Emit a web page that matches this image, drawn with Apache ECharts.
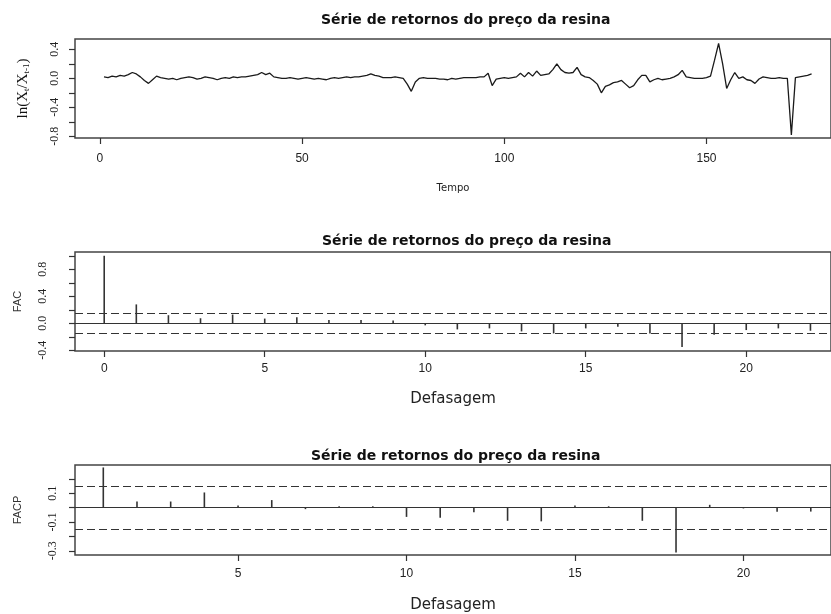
<!DOCTYPE html>
<html>
<head>
<meta charset="utf-8">
<script src="https://cdn.jsdelivr.net/npm/echarts@6/dist/echarts.min.js"></script>
<style>
  html, body { margin: 0; padding: 0; background: #fff; }
  #chart { width: 831px; height: 614px; }
</style>
</head>
<body>
<div id="chart"></div>
<script>
  // série de retornos ln(Xt/Xt-1), t = 1..176
  const retornos = [
    0.02, 0.01, 0.03, 0.02, 0.04, 0.03, 0.05, 0.08, 0.06, 0.02,
    -0.03, -0.07, -0.02, 0.03, 0.01, 0.0, -0.01, 0.0, -0.02, 0.0,
    0.01, 0.02, 0.01, -0.01, 0.0, 0.02, 0.01, 0.0, -0.02, 0.0,
    0.01, 0.0, 0.02, 0.01, 0.02, 0.02, 0.03, 0.04, 0.05, 0.08,
    0.05, 0.07, 0.02, 0.01, 0.0, 0.0, 0.01, 0.0, -0.01, 0.0,
    0.01, 0.0, -0.01, 0.0, -0.01, -0.02, 0.0, 0.01, 0.0, 0.01,
    0.02, 0.01, 0.02, 0.02, 0.03, 0.04, 0.06, 0.04, 0.03, 0.01,
    0.01, 0.01, 0.02, 0.01, 0.0, -0.08, -0.18, -0.05, 0.0, 0.01,
    0.0, 0.0, 0.0, -0.01, -0.01, -0.02, 0.0, -0.01, 0.0, 0.01,
    0.01, 0.01, 0.01, 0.02, 0.02, 0.07, -0.1, -0.01, 0.0, 0.01,
    0.0, 0.01, 0.02, 0.07, 0.02, 0.08, 0.03, 0.1, 0.04, 0.05,
    0.06, 0.12, 0.2, 0.12, 0.08, 0.07, 0.08, 0.15, 0.05, 0.02,
    0.01, -0.03, -0.08, -0.2, -0.11, -0.09, -0.06, -0.05, -0.03, -0.08,
    -0.13, -0.1, -0.02, 0.04, 0.04, -0.05, -0.02, 0.0, -0.02, -0.01,
    0.0, 0.02, 0.05, 0.11, 0.02, 0.01, 0.0, 0.0, 0.0, 0.01,
    0.03, 0.25, 0.48, 0.2, -0.14, -0.02, 0.08, 0.0, 0.02, -0.02,
    -0.03, -0.07, -0.01, 0.02, 0.01, 0.0, 0.0, 0.01, 0.0, 0.0,
    -0.78, 0.01, 0.02, 0.03, 0.04, 0.06
  ];

  // FAC (lags 0..22)
  const lagsFac = [0, 1, 2, 3, 4, 5, 6, 7, 8, 9, 10, 11, 12, 13, 14, 15, 16, 17, 18, 19, 20, 21, 22];
  const fac = [1.0, 0.28, 0.12, 0.075, 0.13, 0.07, 0.09, 0.05, 0.05, 0.04, -0.03, -0.09,
    -0.075, -0.12, -0.15, -0.075, -0.05, -0.15, -0.35, -0.17, -0.10, -0.075, -0.11];

  // FACP (lags 1..22)
  const lagsFacp = [1, 2, 3, 4, 5, 6, 7, 8, 9, 10, 11, 12, 13, 14, 15, 16, 17, 18, 19, 20, 21, 22];
  const facp = [0.28, 0.043, 0.043, 0.106, 0.015, 0.053, -0.01, 0.01, 0.01, -0.064, -0.07,
    -0.032, -0.091, -0.095, 0.015, 0.01, -0.091, -0.312, 0.02, -0.005, -0.028, -0.027];

  const limite = 0.148; // 2/sqrt(n)

  const ticksTopoX = [0, 50, 100, 150];
  const ticksTopoY = [-0.8, -0.6, -0.4, -0.2, 0.0, 0.2, 0.4];
  const labelsTopoY = [-0.8, -0.4, 0.0, 0.4];
  const ticksFacX = [0, 5, 10, 15, 20];
  const ticksFacY = [-0.4, -0.2, 0.0, 0.2, 0.4, 0.6, 0.8, 1.0];
  const labelsFacY = [-0.4, 0.0, 0.4, 0.8];
  const ticksFacpX = [5, 10, 15, 20];
  const ticksFacpY = [-0.3, -0.2, -0.1, 0.0, 0.1, 0.2];
  const labelsFacpY = [-0.3, -0.1, 0.1];

  const titulo = 'Série de retornos do preço da resina';
  const cor = '#333';

  let myChart = echarts.init(document.getElementById('chart'));

  function eixoX(idx, min, max, ticks, nome, nomeGap, nomeFonte, margem) {
    return {
      type: 'value', gridIndex: idx, min: min, max: max,
      splitLine: { show: false },
      axisLine: { show: false, onZero: false },
      axisTick: { show: true, length: 6, customValues: ticks, lineStyle: { color: cor, width: 1.2 } },
      axisLabel: { customValues: ticks, margin: margem, color: '#222',
        fontFamily: 'Liberation Sans', fontSize: 12 },
      name: nome, nameLocation: 'middle', nameGap: nomeGap,
      nameTextStyle: nomeFonte
    };
  }

  function eixoY(idx, min, max, ticks, labels, margem, fonte, nome, nomeGap, nomeFonte) {
    return {
      type: 'value', gridIndex: idx, min: min, max: max,
      splitLine: { show: false },
      axisLine: { show: false, onZero: false },
      axisTick: { show: true, length: 6, customValues: ticks, lineStyle: { color: cor, width: 1.2 } },
      axisLabel: { customValues: labels, rotate: 90, margin: margem, color: '#222',
        fontFamily: fonte.family, fontSize: fonte.size,
        formatter: function (v) { return v.toFixed(1); } },
      name: nome, nameLocation: 'middle', nameGap: nomeGap, nameRotate: 90,
      nameTextStyle: nomeFonte
    };
  }

  const fonteDefas = { fontFamily: 'DejaVu Sans', fontSize: 15, color: '#222' };
  const fonteTitulo = { fontFamily: 'DejaVu Sans', fontWeight: 'bold', fontSize: 14, color: '#111' };

  myChart.setOption({
    animation: false,
    backgroundColor: '#fff',
    title: [
      { text: titulo, left: 316, top: 8, textStyle: fonteTitulo },
      { text: titulo, left: 317, top: 229, textStyle: fonteTitulo },
      { text: titulo, left: 306, top: 444, textStyle: fonteTitulo }
    ],
    grid: [
      { left: 75, right: -3, top: 39, bottom: 476, show: true, borderColor: '#444', borderWidth: 1.5 },
      { left: 75, right: -3, top: 252, bottom: 263, show: true, borderColor: '#444', borderWidth: 1.5 },
      { left: 75, right: -3, top: 465, bottom: 51, show: true, borderColor: '#444', borderWidth: 1.5 }
    ],
    xAxis: [
      eixoX(0, -6.17, 180.8, ticksTopoX, 'Tempo', 45,
        { fontFamily: 'DejaVu Sans', fontSize: 10, color: '#222' }, 15),
      eixoX(1, -0.91, 22.64, ticksFacX, 'Defasagem', 41, fonteDefas, 12),
      eixoX(2, 0.16, 22.6, ticksFacpX, 'Defasagem', 43, fonteDefas, 13)
    ],
    yAxis: [
      eixoY(0, -0.823, 0.542, ticksTopoY, labelsTopoY, 14, { family: 'Liberation Serif', size: 12 },
        '{n|ln(X}{s|t}{n|/X}{s|t-1}{n|)}', 44,
        { rich: {
          n: { fontFamily: 'Liberation Serif', fontSize: 15, color: '#111', lineHeight: 18, verticalAlign: 'bottom' },
          s: { fontFamily: 'Liberation Serif', fontSize: 9, color: '#111', lineHeight: 6, verticalAlign: 'bottom' }
        } }),
      eixoY(1, -0.41, 1.056, ticksFacY, labelsFacY, 26, { family: 'Liberation Sans Narrow', size: 12 },
        'FAC', 52, { fontFamily: 'Liberation Sans', fontSize: 11, color: '#333' }),
      eixoY(2, -0.329, 0.297, ticksFacpY, labelsFacpY, 16, { family: 'Liberation Sans Narrow', size: 12 },
        'FACP', 52, { fontFamily: 'Liberation Sans', fontSize: 11, color: '#333' })
    ],
    series: [
      {
        type: 'line', xAxisIndex: 0, yAxisIndex: 0,
        data: retornos.map((v, i) => [i + 1, v]),
        showSymbol: false,
        lineStyle: { color: '#1a1a1a', width: 1.3 }
      },
      {
        type: 'bar', xAxisIndex: 1, yAxisIndex: 1,
        data: lagsFac.map((l, i) => [l, fac[i]]),
        barWidth: 1.6,
        itemStyle: { color: cor },
        markLine: {
          silent: true, symbol: 'none', label: { show: false },
          lineStyle: { color: '#333', width: 1.2, type: [8, 4] },
          data: [
            { yAxis: limite },
            { yAxis: -limite },
            { yAxis: 0, lineStyle: { type: 'solid', color: '#333', width: 1.2 } }
          ]
        }
      },
      {
        type: 'bar', xAxisIndex: 2, yAxisIndex: 2,
        data: lagsFacp.map((l, i) => [l, facp[i]]),
        barWidth: 1.6,
        itemStyle: { color: cor },
        markLine: {
          silent: true, symbol: 'none', label: { show: false },
          lineStyle: { color: '#333', width: 1.2, type: [8, 4] },
          data: [
            { yAxis: limite },
            { yAxis: -limite },
            { yAxis: 0, lineStyle: { type: 'solid', color: '#333', width: 1.2 } }
          ]
        }
      }
    ]
  });
</script>
</body>
</html>
